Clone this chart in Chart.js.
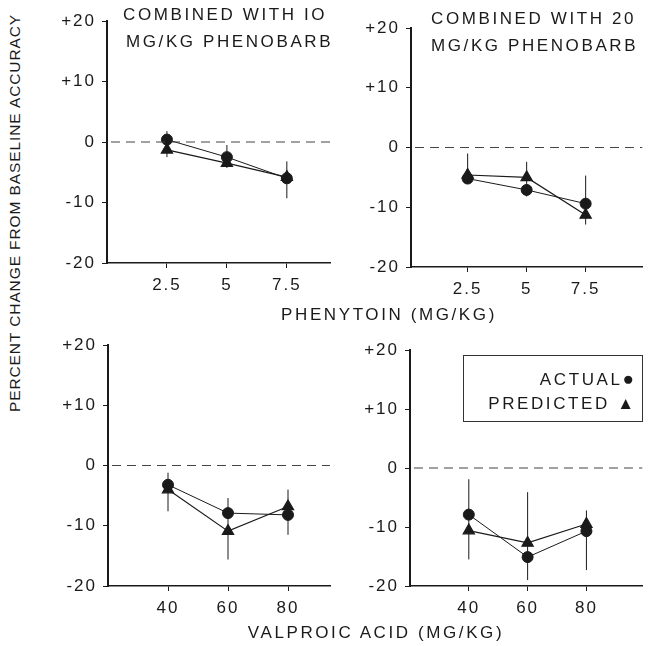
<!DOCTYPE html>
<html>
<head>
    <script src="https://cdn.jsdelivr.net/npm/chart.js"></script>
    <style>
        body { margin: 0; background: #fff; }
        #wrap { position: relative; width: 652px; height: 646px; font-family: "Liberation Sans", Arial, sans-serif; color: #1a1a1a; }
        .box { position: absolute; }
        .txt { position: absolute; font-size: 17px; letter-spacing: 2.6px; white-space: nowrap; }
    </style>
</head>
<body>
<div id="wrap">
    <div class="box" style="left:40px; top:0px; width:300px; height:310px;"><canvas id="c1"></canvas></div>
    <div class="box" style="left:344px; top:0px; width:306px; height:310px;"><canvas id="c2"></canvas></div>
    <div class="box" style="left:41px; top:300px; width:299px; height:330px;"><canvas id="c3"></canvas></div>
    <div class="box" style="left:343px; top:300px; width:307px; height:330px;"><canvas id="c4"></canvas></div>

    <!-- 패널 제목 -->
    <div class="txt" style="left:123px; top:5px;">COMBINED WITH IO</div>
    <div class="txt" style="left:126px; top:32px;">MG/KG PHENOBARB</div>
    <div class="txt" style="left:431px; top:9px;">COMBINED WITH 20</div>
    <div class="txt" style="left:431px; top:36px;">MG/KG PHENOBARB</div>

    <!-- 축 제목 -->
    <div class="txt" style="left:389px; top:315px; transform:translate(-50%,-50%);">PHENYTOIN (MG/KG)</div>
    <div class="txt" style="left:376px; top:633px; transform:translate(-50%,-50%);">VALPROIC ACID (MG/KG)</div>
    <div class="txt" style="left:15px; top:213px; font-size:15.5px; letter-spacing:0.9px; transform:translate(-50%,-50%) rotate(-90deg);">PERCENT CHANGE FROM BASELINE ACCURACY</div>

    <!-- 범례 -->
    <div style="position:absolute; left:463px; top:355px; width:180px; height:67px; border:1px solid #333; box-sizing:border-box;">
        <div class="txt" style="right:8px; top:12px;">ACTUAL<span style="letter-spacing:0; font-size:19px;">&#9679;</span></div>
        <div class="txt" style="right:8px; top:38px;">PREDICTED <span style="letter-spacing:0">&#9650;</span></div>
    </div>
</div>

<script>
    // 페니토인 용량
    var phenDose = [2.5, 5, 7.5];
    // 발프로산 용량
    var valpDose = [40, 60, 80];
    var yTicks = [-20, -10, 0, 10, 20];

    // 10 mg/kg 페노바르비탈
    var p10Actual = [0.4, -2.5, -6.0];
    var p10Pred = [-1.3, -3.5, -5.8];
    var p10ErrLo = [-2.5, -4.3, -9.3];
    var p10ErrHi = [1.8, -0.5, -3.2];

    // 20 mg/kg 페노바르비탈
    var p20Actual = [-5.2, -7.1, -9.4];
    var p20Pred = [-4.6, -5.0, -11.3];
    var p20ErrLo = [-5.8, -8.2, -12.9];
    var p20ErrHi = [-1.0, -2.4, -4.7];

    // 발프로산 (왼쪽)
    var v1Actual = [-3.2, -7.9, -8.2];
    var v1Pred = [-4.0, -10.9, -6.8];
    var v1ErrLo = [-7.6, -15.6, -11.5];
    var v1ErrHi = [-1.2, -5.4, -4.0];

    // 발프로산 (오른쪽)
    var v2Actual = [-7.9, -15.1, -10.7];
    var v2Pred = [-10.6, -12.7, -9.5];
    var v2ErrLo = [-15.5, -19.0, -17.3];
    var v2ErrHi = [-1.9, -4.1, -7.2];

    var FONT = "'Liberation Sans', Arial, sans-serif";
    var INK = '#1a1a1a';

    // 오차막대 + 0 점선
    var extras = {
        id: 'extras',
        beforeDraw: function(chart) {
            chart.ctx.letterSpacing = '2px';
        },
        afterDatasetsDraw: function(chart, args, opts) {
            var ctx = chart.ctx, xs = chart.scales.x, ys = chart.scales.y, a = chart.chartArea;
            ctx.save();
            ctx.letterSpacing = '0px';
            ctx.strokeStyle = '#444';
            ctx.lineWidth = 1.2;
            ctx.setLineDash([9, 6]);
            var y0 = ys.getPixelForValue(0);
            ctx.beginPath();
            ctx.moveTo(a.left + 4, y0);
            ctx.lineTo(a.right, y0);
            ctx.stroke();
            ctx.setLineDash([]);
            ctx.strokeStyle = INK;
            ctx.lineWidth = 1;
            opts.xs.forEach(function(x, i) {
                var px = xs.getPixelForValue(x);
                ctx.beginPath();
                ctx.moveTo(px, ys.getPixelForValue(opts.lo[i]));
                ctx.lineTo(px, ys.getPixelForValue(opts.hi[i]));
                ctx.stroke();
            });
            ctx.restore();
        }
    };

    function makePanel(id, xs, actual, pred, lo, hi, xMin, xMax, pad, xh) {
        var ctx = document.getElementById(id).getContext('2d');
        return new Chart(ctx, {
            type: 'scatter',
            data: {
                datasets: [{
                    label: 'ACTUAL',
                    data: xs.map(function(x, i) { return { x: x, y: actual[i] }; }),
                    showLine: true,
                    borderColor: INK, borderWidth: 1,
                    pointStyle: 'circle', pointRadius: 5.5,
                    pointBackgroundColor: INK, pointBorderColor: INK
                }, {
                    label: 'PREDICTED',
                    data: xs.map(function(x, i) { return { x: x, y: pred[i] }; }),
                    showLine: true,
                    borderColor: INK, borderWidth: 1.2,
                    pointStyle: 'triangle', pointRadius: 6.5,
                    pointBackgroundColor: INK, pointBorderColor: INK
                }]
            },
            options: {
                responsive: true,
                maintainAspectRatio: false,
                animation: false,
                layout: { padding: pad },
                plugins: {
                    legend: { display: false },
                    tooltip: { enabled: false },
                    extras: { xs: xs, lo: lo, hi: hi }
                },
                scales: {
                    x: {
                        type: 'linear', min: xMin, max: xMax,
                        border: { color: INK, width: 1.5 },
                        grid: { drawOnChartArea: false, drawTicks: true, tickLength: 5, color: INK },
                        ticks: { color: INK, padding: 7, font: { family: FONT, size: 17 } },
                        afterBuildTicks: function(s) { s.ticks = xs.map(function(v) { return { value: v }; }); },
                        afterFit: function(s) { s.height = xh; }
                    },
                    y: {
                        min: -20, max: 20,
                        border: { color: INK, width: 2 },
                        grid: { drawOnChartArea: false, drawTicks: true, tickLength: 5, color: INK },
                        ticks: {
                            color: INK, padding: 6, font: { family: FONT, size: 17 },
                            callback: function(v) { return v > 0 ? '+' + v : String(v); }
                        },
                        afterBuildTicks: function(s) { s.ticks = yTicks.map(function(v) { return { value: v }; }); },
                        afterFit: function(s) { s.width = 67; }
                    }
                }
            },
            plugins: [extras]
        });
    }

    makePanel('c1', phenDose, p10Actual, p10Pred, p10ErrLo, p10ErrHi, 0, 9.3, { top: 21, right: 10 }, 47);
    makePanel('c2', phenDose, p20Actual, p20Pred, p20ErrLo, p20ErrHi, 0.1, 9.9, { top: 28, right: 2 }, 43);
    makePanel('c3', valpDose, v1Actual, v1Pred, v1ErrLo, v1ErrHi, 20, 94, { top: 45, right: 10 }, 44);
    makePanel('c4', valpDose, v2Actual, v2Pred, v2ErrLo, v2ErrHi, 20, 99, { top: 50, right: 2 }, 44);
</script>
</body>
</html>
